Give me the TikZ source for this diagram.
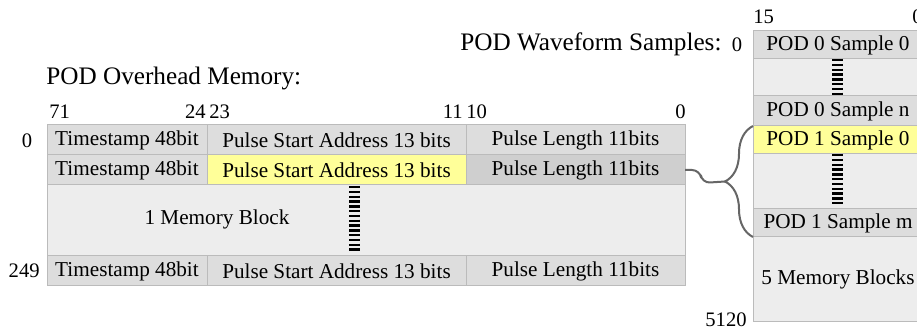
\documentclass[tikz,border=0pt]{standalone}
\usepackage{fontspec}
\setmainfont{Liberation Serif}
\usetikzlibrary{calc,decorations.pathreplacing}
\definecolor{cellgray}{HTML}{DDDDDD}
\definecolor{darkcell}{HTML}{CFCFCF}
\definecolor{midgray}{HTML}{EDEDED}
\definecolor{hl}{HTML}{FFFF99}
\definecolor{edge}{HTML}{BBBBBB}
\definecolor{wire}{HTML}{666666}
\begin{document}
\begin{tikzpicture}[x=0.5pt,y=-0.5pt,
  cell/.style={draw=edge, line width=0.5pt, fill=cellgray, inner sep=0pt, outer sep=0pt,
    anchor=north west, minimum height=15pt, font=\fontsize{10.6}{12}\selectfont},
  lbl/.style={inner sep=0pt, font=\fontsize{10.3}{12}\selectfont},
  title/.style={inner sep=0pt, font=\fontsize{12.6}{15}\selectfont},
  hatch/.style={line width=5.5pt, dash pattern=on 1.2pt off 1.2pt, black},
  wire/.style={draw=wire, line width=1pt}]
\useasboundingbox (0,0) rectangle (917,330);
\clip (0,0) rectangle (917,330);
% ---- left table ----
\node[title, anchor=west] (ttl1) at (46,78) {POD Overhead Memory:};
\node[lbl, anchor=west] (h71) at (49,112) {71};
\node[lbl, anchor=east] (h24) at (206,112) {24};
\node[lbl, anchor=west] (h23) at (209,112) {23};
\node[lbl, anchor=east] (h11) at (463,112) {11};
\node[lbl, anchor=west] (h10) at (466,112) {10};
\node[lbl, anchor=east] (h0) at (686,112) {0};
\node[lbl] (l0) at (27,141) {0};
\node[lbl, anchor=east] (l249) at (40,271) {249};

\node[cell, minimum width=80pt] (a1) at (47,125) {Timestamp 48bit};
\node[cell, minimum width=129.5pt] (b1) at (207,125) {Pulse Start Address 13 bits};
\node[cell, minimum width=109.5pt] (c1) at (466,125) {Pulse Length 11bits};
\node[cell, minimum width=80pt] (a2) at (47,155) {Timestamp 48bit};
\node[cell, minimum width=129.5pt, fill=hl] (b2) at (207,155) {Pulse Start Address 13 bits};
\node[cell, minimum width=109.5pt, fill=darkcell] (c2) at (466,155) {Pulse Length 11bits};
\node[cell, minimum width=319pt, minimum height=35.5pt, fill=midgray] (mid) at (47,185) {};
\node[cell, draw=none, fill=none, anchor=center] (midtxt) at (217,219) {1 Memory Block};
\node[cell, minimum width=80pt] (a3) at (47,256) {Timestamp 48bit};
\node[cell, minimum width=129.5pt] (b3) at (207,256) {Pulse Start Address 13 bits};
\node[cell, minimum width=109.5pt] (c3) at (466,256) {Pulse Length 11bits};
\draw[hatch] (354,186) -- (354,253);

% ---- right column ----
\node[title, anchor=west] (ttl2) at (460,44) {POD Waveform Samples:};
\node[lbl] (r0) at (737,45) {0};
\node[lbl, anchor=west] (h15) at (753,17) {15};
\node[lbl, anchor=east] (hr0) at (923,17) {0};
\node[lbl, anchor=east] (l5120) at (747,320) {5120};

\node[cell, minimum width=85pt, minimum height=14pt] (s00) at (753,31) {POD 0 Sample 0};
\node[cell, minimum width=85pt, minimum height=18.5pt, fill=midgray] (g1) at (753,59) {};
\node[cell, minimum width=85pt, minimum height=15pt] (s0n) at (753,96) {POD 0 Sample n};
\node[cell, minimum width=85pt, minimum height=14pt, fill=hl] (s10) at (753,126) {POD 1 Sample 0};
\node[cell, minimum width=85pt, minimum height=27.5pt, fill=midgray] (g2) at (753,154) {};
\node[cell, minimum width=85pt, minimum height=14pt] (s1m) at (753,209) {POD 1 Sample m};
\node[cell, minimum width=85pt, minimum height=42.5pt, fill=midgray] (blk) at (753,237) {5 Memory Blocks};
\draw[hatch] (837,59) -- (837,95);
\draw[hatch] (837,154) -- (837,205);

% ---- brace and connector ----
\draw[wire, decorate, decoration={brace, amplitude=14pt}] (s1m.south west) -- (s10.north west);
\coordinate (tip) at ($(s10.north west)!0.5!(s1m.south west)+(-28,0)$);
\draw[wire, rounded corners=4pt] (c2.east) -- ++(15,0) -- ++(2,13) -- (tip);
\end{tikzpicture}
\end{document}
